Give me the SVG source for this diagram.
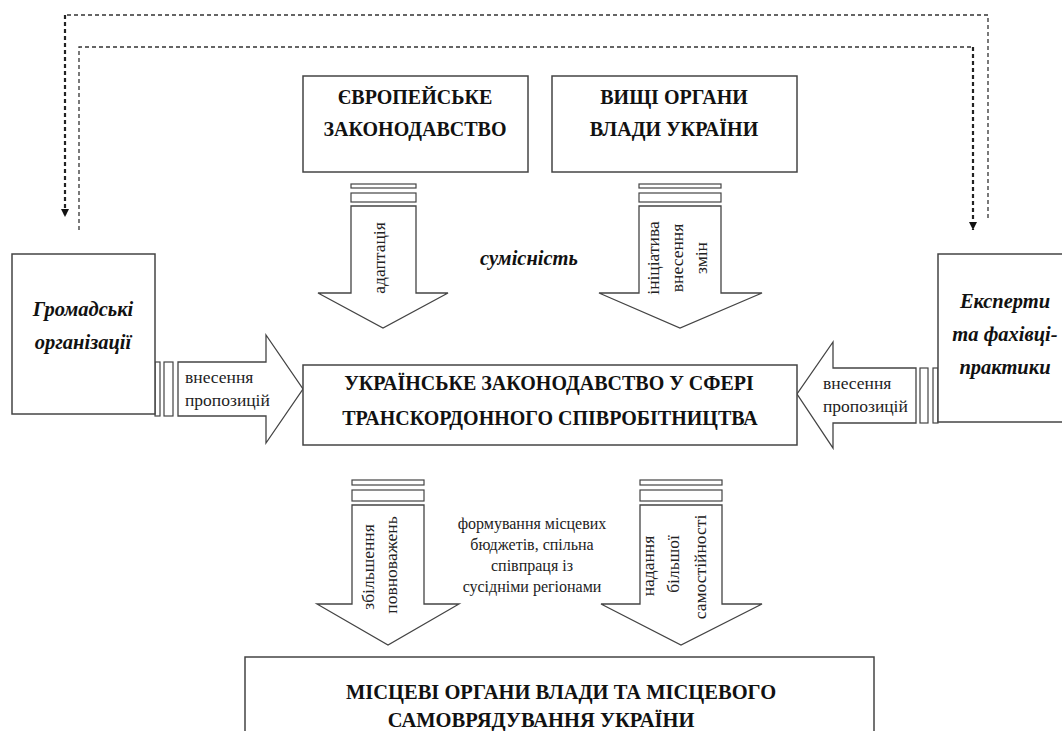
<svg xmlns="http://www.w3.org/2000/svg" width="1062" height="731" viewBox="0 0 1062 731">
<style>
.box{fill:#fff;stroke:#444;stroke-width:1.5}
.arr{fill:#fff;stroke:#444;stroke-width:1.3;stroke-linejoin:miter}
.bar{fill:#fff;stroke:#444;stroke-width:1.2}
.t{font-family:"Liberation Serif","Times New Roman","DejaVu Serif",serif;font-weight:bold;font-size:20px;fill:#111;text-anchor:middle}
.ti{font-family:"Liberation Serif","Times New Roman","DejaVu Serif",serif;font-weight:bold;font-style:italic;font-size:20.5px;fill:#111;text-anchor:middle}
.s{font-family:"Liberation Serif","Times New Roman","DejaVu Serif",serif;font-size:17.5px;fill:#222}
.m{font-family:"Liberation Serif","Times New Roman","DejaVu Serif",serif;font-size:16px;fill:#222;text-anchor:middle}
.d1{fill:none;stroke:#333;stroke-width:1.3;stroke-dasharray:4 3}
.d2{fill:none;stroke:#222;stroke-width:2.2;stroke-dasharray:4 3}
</style>
<defs>
<marker id="ah" markerUnits="userSpaceOnUse" markerWidth="9" markerHeight="9" refX="8" refY="4" orient="auto">
<path d="M0,0 L8,4 L0,8 z" fill="#111"/>
</marker>
</defs>
<g id="connectors">
<path class="d1" d="M988,218 V15 H65"/>
<path class="d2" d="M65,15 V217" marker-end="url(#ah)"/>
<path class="d1" d="M79,230 V47 H973"/>
<path class="d2" d="M973,47 V230" marker-end="url(#ah)"/>
<g id="arrow-eu">
<rect class="bar" x="351" y="184" width="65" height="4"/>
<rect class="bar" x="351" y="193" width="65" height="9"/>
<polygon class="arr" points="351,206 416,206 416,293 448,293 383,328 318,293 351,293"/>
<text class="s" text-anchor="middle" transform="translate(385,258) rotate(-90)">адаптація</text>
</g>
<g id="arrow-gov">
<rect class="bar" x="639" y="184" width="82" height="4"/>
<rect class="bar" x="639" y="193" width="82" height="9"/>
<polygon class="arr" points="639,206 721,206 721,293 762,293 680,328 599,293 639,293"/>
<text class="s" text-anchor="middle" transform="translate(659,258) rotate(-90)">ініціатива</text>
<text class="s" text-anchor="middle" transform="translate(683,258) rotate(-90)">внесення</text>
<text class="s" text-anchor="middle" transform="translate(707,258) rotate(-90)">змін</text>
</g>
<g id="arrow-local1">
<rect class="bar" x="352" y="480" width="72" height="5"/>
<rect class="bar" x="352" y="490" width="72" height="11"/>
<polygon class="arr" points="352,505 424,505 424,604 459,604 388,645 317,604 352,604"/>
<text class="s" text-anchor="middle" transform="translate(374,567) rotate(-90)">збільшення</text>
<text class="s" text-anchor="middle" transform="translate(397,565) rotate(-90)">повноважень</text>
</g>
<g id="arrow-local2">
<rect class="bar" x="640" y="480" width="82" height="5"/>
<rect class="bar" x="640" y="490" width="82" height="11"/>
<polygon class="arr" points="640,505 722,505 722,604 762,604 681,645 601,604 640,604"/>
<text class="s" text-anchor="middle" transform="translate(654,566) rotate(-90)">надання</text>
<text class="s" text-anchor="middle" transform="translate(679,564) rotate(-90)">більшої</text>
<text class="s" text-anchor="middle" transform="translate(706,567) rotate(-90)">самостійності</text>
</g>
<g id="arrow-ngo">
<rect class="bar" x="155" y="362" width="5" height="54"/>
<rect class="bar" x="164" y="362" width="9" height="54"/>
<polygon class="arr" points="178,362 266,362 266,335 303,389 266,443 266,416 178,416"/>
<text class="s" x="185" y="383">внесення</text>
<text class="s" x="185" y="406">пропозицій</text>
</g>
<g id="arrow-experts">
<rect class="bar" x="920" y="368" width="8" height="55"/>
<rect class="bar" x="933" y="368" width="5" height="55"/>
<polygon class="arr" points="916,368 833,368 833,342 797,394 833,448 833,423 916,423"/>
<text class="s" x="823" y="389">внесення</text>
<text class="s" x="823" y="412">пропозицій</text>
</g>
<text class="ti" x="529" y="265">сумісність</text>
<text class="m" x="532" y="529">формування місцевих</text>
<text class="m" x="532" y="550">бюджетів, спільна</text>
<text class="m" x="532" y="571">співпраця із</text>
<text class="m" x="532" y="592">сусідніми регіонами</text>
</g>
<g id="eu">
<rect class="box" x="303" y="76" width="225" height="96"/>
<text class="t" x="415" y="104">ЄВРОПЕЙСЬКЕ</text>
<text class="t" x="415" y="136">ЗАКОНОДАВСТВО</text>
</g>
<g id="gov">
<rect class="box" x="552" y="76" width="245" height="96"/>
<text class="t" x="674" y="104">ВИЩІ ОРГАНИ</text>
<text class="t" x="674" y="136">ВЛАДИ УКРАЇНИ</text>
</g>
<g id="ngo">
<rect class="box" x="12" y="254" width="143" height="160"/>
<text class="ti" x="83" y="316">Громадські</text>
<text class="ti" x="83" y="349">організації</text>
</g>
<g id="experts">
<rect class="box" x="938" y="254" width="130" height="168"/>
<text class="ti" x="1005" y="308">Експерти</text>
<text class="ti" x="1005" y="341">та фахівці-</text>
<text class="ti" x="1005" y="374">практики</text>
</g>
<g id="ua-law">
<rect class="box" x="303" y="365" width="494" height="80"/>
<text class="t" x="549" y="390">УКРАЇНСЬКЕ ЗАКОНОДАВСТВО У СФЕРІ</text>
<text class="t" x="550" y="425">ТРАНСКОРДОННОГО СПІВРОБІТНИЦТВА</text>
</g>
<g id="local">
<rect class="box" x="245" y="657" width="629" height="90"/>
<text class="t" x="561" y="699" style="font-size:20.5px">МІСЦЕВІ ОРГАНИ ВЛАДИ ТА МІСЦЕВОГО</text>
<text class="t" x="541" y="727" style="font-size:20.5px">САМОВРЯДУВАННЯ УКРАЇНИ</text>
</g>
</svg>
